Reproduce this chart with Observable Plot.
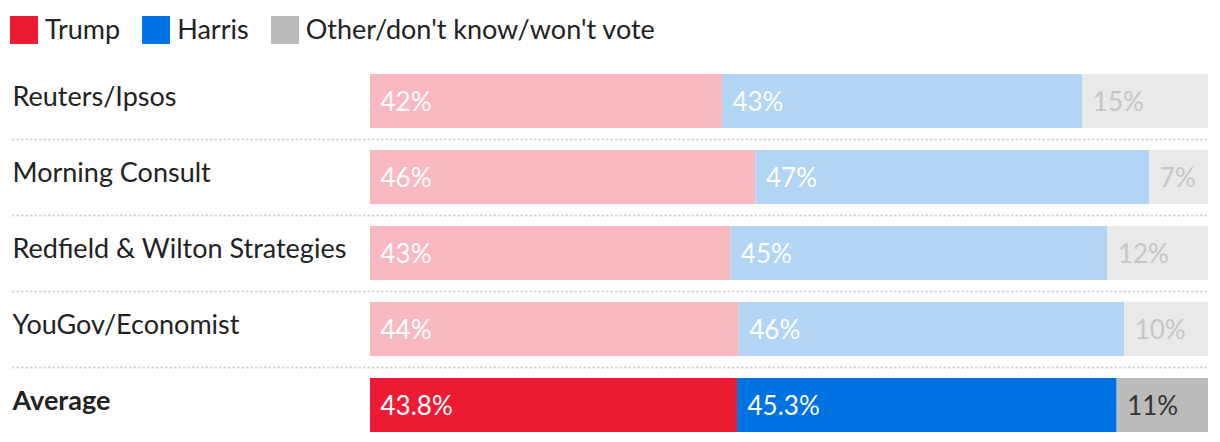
<!DOCTYPE html>
<html>
<head>
<meta charset="utf-8">
<script src="https://cdn.jsdelivr.net/npm/d3@7"></script>
<script src="https://cdn.jsdelivr.net/npm/@observablehq/plot@0.6"></script>
<style>
  html, body { margin: 0; padding: 0; background: #fff; overflow: hidden; }
  body { font-family: Lato, "Noto Sans", sans-serif; color: #222; }
  #legend { height: 60px; display: flex; align-items: center; padding-left: 10px; box-sizing: border-box; font-size: 27px; }
  .item { display: flex; align-items: center; margin-right: 22px; }
  .sw { width: 28px; height: 28px; margin-right: 7px; }
  .item span { position: relative; top: -2px; }
  svg { display: block; }
</style>
</head>
<body>
<div id="legend"></div>
<div id="chart"></div>
<script>
const pollsters = ["Reuters/Ipsos", "Morning Consult", "Redfield & Wilton Strategies", "YouGov/Economist", "Average"];
const trump  = [42, 46, 43, 44, 43.8];
const harris = [43, 47, 45, 46, 45.3];
const other  = [15, 7, 12, 10, 10.9];
const parties = ["Trump", "Harris", "Other/don't know/won't vote"];

const strong = {"Trump": "#ed1b34", "Harris": "#0073e2", "Other/don't know/won't vote": "#bbbbbb"};
const light  = {"Trump": "#f8b8bf", "Harris": "#b2d4f5", "Other/don't know/won't vote": "#e9e9e9"};

// legend
const leg = document.getElementById("legend");
parties.forEach(p => {
  const it = document.createElement("div"); it.className = "item";
  const sw = document.createElement("div"); sw.className = "sw"; sw.style.background = strong[p];
  const tx = document.createElement("span"); tx.textContent = p;
  it.appendChild(sw); it.appendChild(tx); leg.appendChild(it);
});

const series = [trump, harris, other];
const rows = [];
pollsters.forEach((name, i) => {
  const avg = name === "Average";
  parties.forEach((p, j) => {
    const v = series[j][i];
    let label;
    if (avg) label = (j < 2 ? v.toFixed(1) : Math.round(v)) + "%";
    else label = v + "%";
    rows.push({pollster: name, party: p, value: v, avg, label});
  });
});

const textColor = d => d.party === parties[2] ? (d.avg ? "#333333" : "#c6c6c6") : "#ffffff";

const chart = Plot.plot({
  width: 1220,
  height: 382,
  marginLeft: 370,
  marginRight: 12,
  marginTop: 0,
  marginBottom: 0,
  style: {fontFamily: "Lato, 'Noto Sans', sans-serif", background: "#fff"},
  x: {domain: [0, 100], axis: null},
  y: {domain: pollsters, range: [14, 372], paddingInner: 0.2895, paddingOuter: 0, align: 0, axis: null},
  color: {type: "identity"},
  marks: [
    Plot.ruleY(pollsters.slice(0, 4), {y: d => d, dy: 38, insetLeft: -358, stroke: "#d6d6d6", strokeWidth: 2, strokeDasharray: "2.5,2"}),
    Plot.barX(rows, Plot.stackX({x: "value", y: "pollster", fill: d => (d.avg ? strong : light)[d.party]})),
    Plot.text(rows, Plot.stackX1({x: "value", y: "pollster", text: "label", textAnchor: "start", dx: 10, dy: 1, fontSize: 26, fill: textColor})),
    Plot.text(pollsters.filter(d => d !== "Average"), {y: d => d, text: d => d, frameAnchor: "left", dx: -358, dy: -4, textAnchor: "start", fontSize: 27, fill: "#222"}),
    Plot.text(["Average"], {y: d => d, text: d => d, frameAnchor: "left", dx: -358, dy: -4, textAnchor: "start", fontSize: 27, fontWeight: "bold", fill: "#222"})
  ]
});
document.getElementById("chart").appendChild(chart);
</script>
</body>
</html>
